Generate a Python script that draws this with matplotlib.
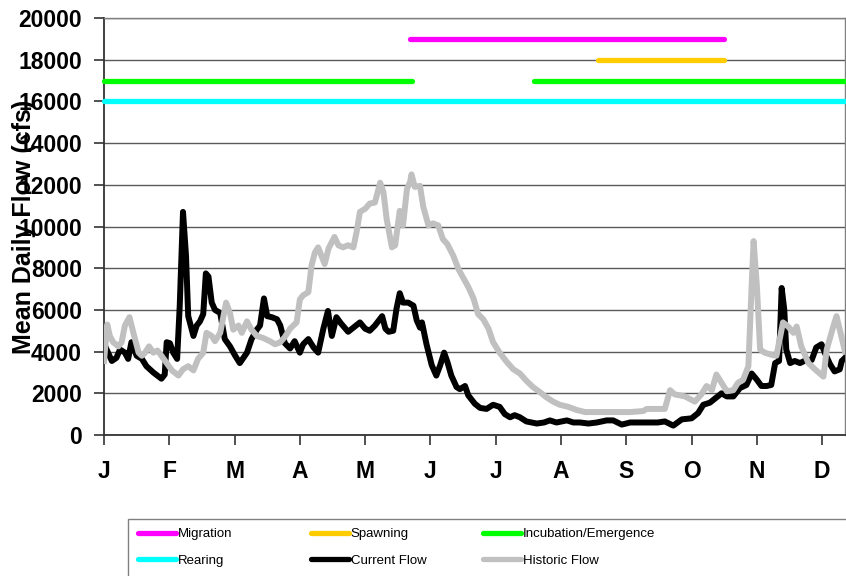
import matplotlib
matplotlib.use("Agg")
import matplotlib.pyplot as plt
from matplotlib.lines import Line2D
from matplotlib.patches import Rectangle

# x positions are in months since 1 Jan (0 = J, 1 = F, ...)
months = ["J", "F", "M", "A", "M", "J", "J", "A", "S", "O", "N", "D"]

current_x = [0.00, 0.04, 0.12, 0.19, 0.245, 0.32, 0.37, 0.42, 0.50, 0.58, 0.65, 0.755,
             0.88, 0.93, 0.96, 1.01, 1.06, 1.12, 1.16, 1.21, 1.256, 1.29, 1.37, 1.42,
             1.47, 1.52, 1.56, 1.60, 1.65, 1.70, 1.78, 1.85, 1.93, 2.01, 2.08, 2.19,
             2.26, 2.34, 2.39, 2.45, 2.50, 2.57, 2.65, 2.70, 2.77, 2.85, 2.92, 3.00,
             3.05, 3.13, 3.21, 3.28, 3.36, 3.43, 3.49, 3.56, 3.63, 3.74, 3.82, 3.92,
             4.00, 4.07, 4.15, 4.26, 4.31, 4.36, 4.43, 4.48, 4.53, 4.58, 4.66, 4.74,
             4.79, 4.84, 4.87, 4.94, 5.02, 5.09, 5.15, 5.21, 5.26, 5.32, 5.40, 5.45,
             5.53, 5.58, 5.68, 5.76, 5.86, 5.96, 6.06, 6.14, 6.22, 6.29, 6.37, 6.47,
             6.55, 6.63, 6.74, 6.83, 6.93, 7.09, 7.19, 7.29, 7.42, 7.55, 7.70, 7.80,
             7.93, 8.06, 8.26, 8.48, 8.59, 8.72, 8.85, 9.00, 9.10, 9.18, 9.28, 9.38,
             9.46, 9.54, 9.64, 9.74, 9.84, 9.92, 10.00, 10.07, 10.15, 10.22, 10.28,
             10.34, 10.38, 10.42, 10.45, 10.51, 10.58, 10.66, 10.76, 10.84, 10.91,
             10.99, 11.04, 11.12, 11.19, 11.27, 11.30, 11.35]
current_flow = [4400, 4100, 3550, 3700, 4100, 3950, 3650, 4450, 3800, 3650, 3300, 3000,
                2700, 2900, 4450, 4400, 3950, 3650, 6200, 10700, 8600, 5700, 4750, 5250,
                5450, 5800, 7750, 7600, 6350, 6000, 5850, 4600, 4250, 3800, 3450, 3950,
                4600, 5050, 5250, 6550, 5700, 5650, 5550, 5250, 4400, 4150, 4500, 3950,
                4350, 4600, 4200, 3950, 5100, 5950, 4750, 5650, 5350, 4950, 5150, 5400,
                5100, 5000, 5250, 5700, 5100, 4950, 5000, 6050, 6800, 6350, 6350, 6200,
                5500, 5150, 5400, 4350, 3350, 2850, 3350, 3950, 3500, 2850, 2300, 2200,
                2350, 1900, 1500, 1300, 1250, 1450, 1350, 1000, 850, 950, 850, 650,
                600, 550, 600, 700, 600, 700, 600, 600, 550, 600, 700, 700,
                500, 600, 600, 600, 650, 450, 750, 800, 1050, 1450, 1550, 1800,
                2000, 1850, 1850, 2250, 2400, 2950, 2650, 2350, 2350, 2400, 3450,
                3550, 7050, 6000, 4100, 3450, 3550, 3450, 3600, 3600, 4200,
                4350, 3950, 3400, 3050, 3150, 3550, 3700]

historic_x = [0.00, 0.05, 0.09, 0.14, 0.22, 0.27, 0.32, 0.39, 0.45, 0.53, 0.58, 0.63,
              0.69, 0.755, 0.82, 0.88, 0.96, 1.04, 1.14, 1.21, 1.29, 1.37, 1.44, 1.52,
              1.57, 1.65, 1.70, 1.78, 1.87, 1.93, 1.98, 2.06, 2.11, 2.19, 2.26, 2.34,
              2.44, 2.54, 2.62, 2.70, 2.77, 2.85, 2.95, 3.00, 3.05, 3.13, 3.18, 3.23,
              3.28, 3.33, 3.38, 3.44, 3.53, 3.59, 3.66, 3.74, 3.82, 3.87, 3.92, 4.00,
              4.07, 4.15, 4.23, 4.28, 4.33, 4.41, 4.46, 4.53, 4.58, 4.64, 4.69, 4.71,
              4.76, 4.84, 4.89, 4.97, 5.04, 5.12, 5.19, 5.26, 5.35, 5.43, 5.50, 5.58,
              5.66, 5.73, 5.81, 5.89, 5.96, 6.06, 6.17, 6.27, 6.37, 6.47, 6.57, 6.68,
              6.78, 6.88, 6.98, 7.11, 7.24, 7.37, 7.55, 7.75, 7.89, 8.06, 8.26, 8.31,
              8.48, 8.59, 8.67, 8.74, 8.90, 9.05, 9.15, 9.23, 9.31, 9.38, 9.46, 9.54,
              9.64, 9.71, 9.79, 9.87, 9.92, 9.95, 10.00, 10.05, 10.12, 10.22, 10.30,
              10.35, 10.40, 10.48, 10.56, 10.61, 10.68, 10.79, 10.89, 11.02, 11.07,
              11.17, 11.22, 11.27, 11.35]
historic_flow = [3550, 5300, 4750, 4450, 4250, 4450, 5250, 5650, 4900, 3950, 3800, 3950,
                 4250, 3950, 4050, 3800, 3450, 3100, 2850, 3150, 3300, 3100, 3650, 3950,
                 4900, 4750, 4500, 4900, 6350, 5850, 5050, 5250, 4900, 5450, 5050, 4750,
                 4650, 4500, 4350, 4450, 4700, 5100, 5400, 6500, 6700, 6850, 8150, 8750,
                 9000, 8600, 8200, 8950, 9500, 9100, 9000, 9100, 9000, 9750, 10700, 10850,
                 11100, 11150, 12100, 11650, 10350, 9000, 9100, 10750, 10050, 11800, 12150, 12500,
                 11900, 11950, 10950, 10050, 10150, 10050, 9400, 9150, 8600, 7950, 7550, 7100,
                 6550, 5800, 5550, 5100, 4450, 3950, 3500, 3150, 2950, 2600, 2300, 2050,
                 1800, 1600, 1450, 1350, 1200, 1100, 1100, 1100, 1100, 1100, 1150, 1250,
                 1250, 1250, 2150, 1950, 1850, 1600, 1950, 2350, 2150, 2900, 2500, 2100,
                 2150, 2500, 2650, 3300, 7150, 9300, 7150, 4100, 3950, 3850, 3800,
                 4600, 5400, 5200, 4900, 5200, 4250, 3450, 3150, 2800, 4100,
                 5200, 5700, 5050, 4000]

# life-stage periods (month units)
phase_names = ["Migration", "Spawning", "Incubation/Emergence", "Rearing"]
phase_colors = ["#FF00FF", "#FFCC00", "#00FF00", "#00FFFF"]
phase_levels = [19000, 18000, 17000, 16000]
phase_spans = [[(4.69, 9.49)],
               [(7.57, 9.49)],
               [(0.0, 4.72), (6.58, 11.35)],
               [(0.0, 11.35)]]

W, H = 846, 576
fig = plt.figure(figsize=(W / 100, H / 100), dpi=100)
ax = fig.add_axes([104 / W, 1 - 435 / H, 741 / W, 417 / H])

for name, col, lev, spans in zip(phase_names, phase_colors, phase_levels, phase_spans):
    for x0, x1 in spans:
        ax.plot([x0, x1], [lev, lev], color=col, lw=3.8, solid_capstyle="round",
                zorder=3, clip_on=False)

ax.plot(current_x, current_flow, color="black", lw=4.3, solid_joinstyle="round", zorder=4)
ax.plot(historic_x, historic_flow, color="#C0C0C0", lw=4.3, solid_joinstyle="round", zorder=5)

ax.set_xlim(0, 11.35)
ax.set_ylim(0, 20000)
ax.set_yticks(range(0, 20001, 2000))
ax.set_xticks(range(12))
ax.set_xticklabels(months)
ax.yaxis.grid(True, color="#5a5a5a", lw=1.0)
ax.set_axisbelow(True)

for s in ["top", "right"]:
    ax.spines[s].set_color("#808080")
    ax.spines[s].set_linewidth(1.0)
for s in ["left", "bottom"]:
    ax.spines[s].set_color("#333333")
    ax.spines[s].set_linewidth(1.3)

tick_font = dict(family="Liberation Sans", weight="bold", size=16.5)
ax.tick_params(axis="both", direction="out", length=7, width=1.2, color="#333333")
ax.tick_params(axis="y", pad=9)
ax.tick_params(axis="x", pad=11)
for lab in ax.get_xticklabels() + ax.get_yticklabels():
    lab.set_fontproperties(tick_font)

ax.set_ylabel("Mean Daily Flow (cfs)", fontfamily="Liberation Sans", fontweight="bold",
              fontsize=18)
ax.yaxis.set_label_coords(-0.092, 0.5)

# legend box (runs off the right and bottom edges, as in the original)
fig.patches.append(Rectangle((128 / W, -0.02), 0.9, (576 - 519) / H + 0.02,
                             transform=fig.transFigure, fill=False,
                             edgecolor="#808080", lw=1.0))

entries = [("Migration", "#FF00FF"), ("Rearing", "#00FFFF"),
           ("Spawning", "#FFCC00"), ("Current Flow", "black"),
           ("Incubation/Emergence", "#00FF00"), ("Historic Flow", "#C0C0C0")]
col_x = [138, 311, 483]
for i, cx in enumerate(col_x):
    pair = entries[2 * i:2 * i + 2]
    handles = [Line2D([], [], color=c, lw=3.8, solid_capstyle="round") for _, c in pair]
    leg = fig.legend(handles, [n for n, _ in pair], loc="upper left",
                     bbox_to_anchor=(cx / W, 1 - 528 / H), frameon=False,
                     borderpad=0, borderaxespad=0, handlelength=2.9,
                     handletextpad=0.1, labelspacing=1.1,
                     prop=dict(family="Liberation Sans", size=9.5))

fig.savefig("out.png", dpi=100)
